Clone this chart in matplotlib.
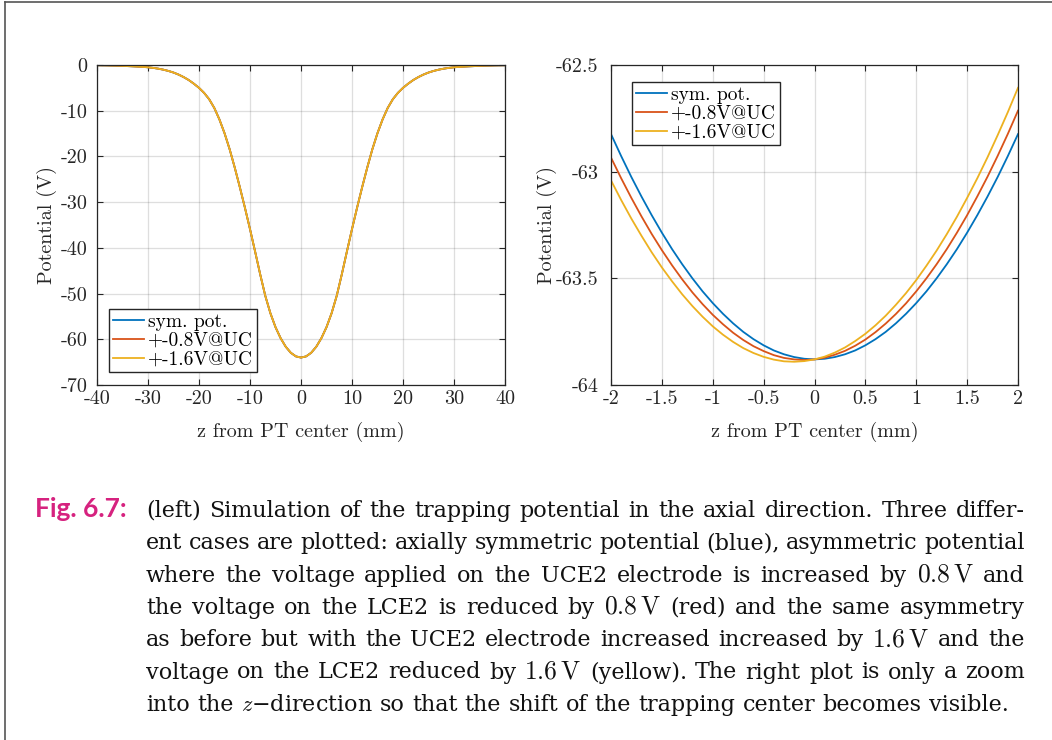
import matplotlib.pyplot as plt
from matplotlib.lines import Line2D

plt.rcParams['mathtext.fontset'] = 'cm'
plt.rcParams['font.family'] = 'cmr10'
plt.rcParams['axes.formatter.use_mathtext'] = True

# wide scan of the axial potential (all three settings overlap at this scale)
z_wide = [-40, -39, -38, -37, -36, -35, -34, -33, -32, -31, -30, -29, -28, -27,
          -26, -25, -24, -23, -22, -21, -20, -19, -18, -17, -16, -15, -14, -13,
          -12, -11, -10, -9, -8, -7, -6, -5, -4, -3, -2, -1, 0,
          1, 2, 3, 4, 5, 6, 7, 8, 9, 10, 11, 12, 13, 14, 15, 16, 17, 18, 19, 20,
          21, 22, 23, 24, 25, 26, 27, 28, 29, 30, 31, 32, 33, 34, 35, 36, 37,
          38, 39, 40]
v_wide = [-0.05, -0.07, -0.09, -0.12, -0.15, -0.19, -0.24, -0.29, -0.35, -0.42,
          -0.5, -0.63, -0.8, -1.02, -1.3, -1.65, -2.1, -2.65, -3.3, -4.1,
          -5.0, -6.1, -7.5, -9.4, -11.9, -14.9, -18.4, -22.4, -26.7, -31.2,
          -35.9, -40.8, -45.8, -50.5, -54.3, -57.35, -59.75, -61.62, -62.95, -63.74,
          -64.0,
          -63.74, -62.95, -61.62, -59.75, -57.35, -54.3, -50.5, -45.8, -40.8, -35.9,
          -31.2, -26.7, -22.4, -18.4, -14.9, -11.9, -9.4, -7.5, -6.1, -5.0,
          -4.1, -3.3, -2.65, -2.1, -1.65, -1.3, -1.02, -0.8, -0.63, -0.5,
          -0.42, -0.35, -0.29, -0.24, -0.19, -0.15, -0.12, -0.09, -0.07, -0.05]

# zoom around the trap center
z_zoom = [-2.0, -1.9, -1.8, -1.7, -1.6, -1.5, -1.4, -1.3, -1.2, -1.1, -1.0,
          -0.9, -0.8, -0.7, -0.6, -0.5, -0.4, -0.3, -0.2, -0.1, 0.0,
          0.1, 0.2, 0.3, 0.4, 0.5, 0.6, 0.7, 0.8, 0.9, 1.0,
          1.1, 1.2, 1.3, 1.4, 1.5, 1.6, 1.7, 1.8, 1.9, 2.0]
v_sym = [-62.824, -62.927, -63.025, -63.117, -63.204, -63.286, -63.363, -63.434,
         -63.500, -63.561, -63.616, -63.666, -63.711, -63.751, -63.785, -63.814,
         -63.838, -63.856, -63.869, -63.877, -63.880,
         -63.877, -63.869, -63.856, -63.838, -63.814, -63.785, -63.751, -63.711,
         -63.666, -63.616, -63.561, -63.500, -63.434, -63.363, -63.286, -63.204,
         -63.117, -63.025, -62.927, -62.824]
v_08 = [-62.934, -63.031, -63.123, -63.210, -63.292, -63.368, -63.439, -63.505,
        -63.566, -63.621, -63.671, -63.715, -63.755, -63.789, -63.818, -63.841,
        -63.860, -63.873, -63.880, -63.883, -63.880,
        -63.872, -63.858, -63.840, -63.816, -63.787, -63.752, -63.712, -63.667,
        -63.617, -63.561, -63.500, -63.434, -63.363, -63.286, -63.204, -63.116,
        -63.024, -62.926, -62.823, -62.714]
v_16 = [-63.041, -63.133, -63.220, -63.301, -63.378, -63.449, -63.514, -63.575,
        -63.630, -63.680, -63.725, -63.764, -63.798, -63.827, -63.850, -63.868,
        -63.881, -63.889, -63.891, -63.888, -63.880,
        -63.867, -63.848, -63.824, -63.794, -63.760, -63.720, -63.675, -63.624,
        -63.569, -63.508, -63.441, -63.370, -63.293, -63.211, -63.123, -63.031,
        -62.933, -62.829, -62.721, -62.607]

labels = ['sym. pot.', '+-0.8V@UC', '+-1.6V@UC']
colors = ['#0072BD', '#D95319', '#EDB120']

xt_left = [-40, -30, -20, -10, 0, 10, 20, 30, 40]
yt_left = [0, -10, -20, -30, -40, -50, -60, -70]
xt_right = [-2, -1.5, -1, -0.5, 0, 0.5, 1, 1.5, 2]
yt_right = [-62.5, -63, -63.5, -64]

caption = [
    "(left) Simulation of the trapping potential in the axial direction. Three differ-",
    "ent cases are plotted: axially symmetric potential (blue), asymmetric potential",
    r"where the voltage applied on the UCE2 electrode is increased by $0.8\,\mathrm{V}$ and",
    r"the voltage on the LCE2 is reduced by $0.8\,\mathrm{V}$ (red) and the same asymmetry",
    r"as before but with the UCE2 electrode increased increased by $1.6\,\mathrm{V}$ and the",
    r"voltage on the LCE2 reduced by $1.6\,\mathrm{V}$ (yellow). The right plot is only a zoom",
    "into the $z$\u2212direction so that the shift of the trapping center becomes visible.",
]

W, H = 1052, 740
fig = plt.figure(figsize=(W / 100, H / 100), dpi=100)
fig.patch.set_facecolor('white')

ink = '#262626'


def style_axes(ax, xt, yt, ypad):
    ax.set_xticks(xt)
    ax.set_xticklabels(['%g' % v for v in xt])
    ax.set_yticks(yt)
    ax.set_yticklabels(['%g' % v for v in yt])
    ax.tick_params(direction='in', top=True, right=True, length=4, width=0.8,
                   colors=ink, labelsize=14.5, labelcolor=ink)
    ax.tick_params(axis='x', pad=4)
    ax.tick_params(axis='y', pad=ypad)
    for s in ax.spines.values():
        s.set_color(ink)
        s.set_linewidth(0.9)
    ax.grid(True, color=ink, alpha=0.15, linewidth=0.9)
    ax.set_axisbelow(True)
    ax.set_xlabel('z from PT center (mm)', fontsize=14.5, color=ink)
    ax.set_ylabel('Potential (V)', fontsize=14.5, color=ink)


def add_legend(ax, loc, anchor):
    leg = ax.legend(loc=loc, bbox_to_anchor=anchor, borderaxespad=0,
                    fontsize=14, fancybox=False, framealpha=1, edgecolor=ink,
                    handlelength=1.6, handletextpad=0.2, borderpad=0.2,
                    labelspacing=0.05)
    leg.get_frame().set_linewidth(1.0)


# left: full axial range
ax1 = fig.add_axes([97 / W, 1 - 385 / H, 408 / W, 320 / H])
for lab, c in zip(labels, colors):
    ax1.plot(z_wide, v_wide, color=c, lw=1.3, label=lab)
ax1.set_xlim(-40, 40)
ax1.set_ylim(-70, 0)
style_axes(ax1, xt_left, yt_left, 7)
ax1.xaxis.set_label_coords(0.5, -0.115)
ax1.yaxis.set_label_coords(-0.098, 0.5)
add_legend(ax1, 'lower left', (0.029, 0.04))

# right: zoom into the center
ax2 = fig.add_axes([611 / W, 1 - 385 / H, 407 / W, 320 / H])
for v, lab, c in zip([v_sym, v_08, v_16], labels, colors):
    ax2.plot(z_zoom, v, color=c, lw=1.3, label=lab)
ax2.set_xlim(-2, 2)
ax2.set_ylim(-64, -62.5)
style_axes(ax2, xt_right, yt_right, 9)
ax2.xaxis.set_label_coords(0.5, -0.115)
ax2.yaxis.set_label_coords(-0.133, 0.5)
add_legend(ax2, 'upper left', (0.052, 0.947))

# page frame
fig.add_artist(Line2D([5 / W, 5 / W], [0, 1 - 2 / H], color='#555555', lw=1.2))
fig.add_artist(Line2D([5 / W, 1], [1 - 2 / H, 1 - 2 / H], color='#555555', lw=1.2))

# caption, justified line by line
renderer = fig.canvas.get_renderer()
cap_size = 16
fig.text(35 / W, 1 - 517 / H, 'Fig. 6.7:', fontsize=19, color='#D6227F',
         family='Lato', fontweight='bold', va='baseline')

x0, x1 = 146, 1025
space = 0.33 * cap_size * 100 / 72
for i, line in enumerate(caption):
    y = 517 + i * 32.3
    words = line.split()
    texts = []
    for w in words:
        # computer-modern quantities read small next to the serif body text
        size = cap_size * 1.15 if 'mathrm' in w else cap_size
        texts.append(fig.text(0, 1 - y / H, w, fontsize=size, family='DejaVu Serif',
                              color='#111111', va='baseline'))
    widths = [t.get_window_extent(renderer).width for t in texts]
    if i < len(caption) - 1:
        gap = max((x1 - x0 - sum(widths)) / (len(words) - 1), 0.6 * space)
    else:
        gap = space
    x = x0
    for t, w in zip(texts, widths):
        t.set_x(x / W)
        x += w + gap

fig.savefig('out.png', dpi=100)
